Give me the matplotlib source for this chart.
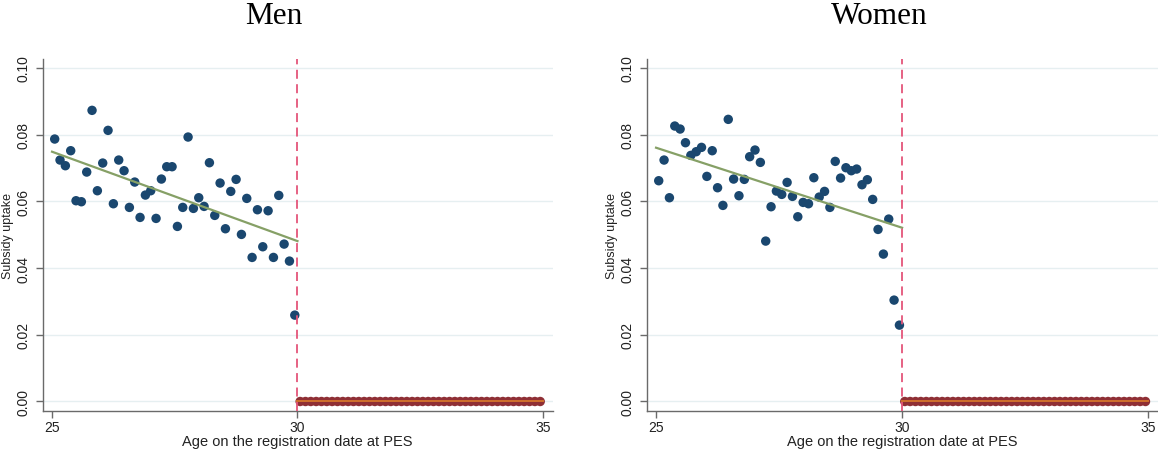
import numpy as np
import matplotlib
matplotlib.use("Agg")
import matplotlib.pyplot as plt

# ---------------- data ----------------
n_bins = 46
age_pre = 25 + (np.arange(n_bins) + 0.5) * 5 / n_bins
age_post = 30 + (np.arange(n_bins) + 0.5) * 5 / n_bins

men_pre = [0.0787, 0.0724, 0.0707, 0.0752, 0.0602, 0.0599, 0.0688, 0.0873,
           0.0632, 0.0715, 0.0813, 0.0593, 0.0724, 0.0692, 0.0582, 0.0658,
           0.0552, 0.0619, 0.0632, 0.0549, 0.0667, 0.0704, 0.0704, 0.0525,
           0.0582, 0.0793, 0.0579, 0.0611, 0.0585, 0.0716, 0.0558, 0.0655,
           0.0518, 0.0630, 0.0666, 0.0501, 0.0609, 0.0432, 0.0575, 0.0464,
           0.0572, 0.0432, 0.0618, 0.0472, 0.0421, 0.0259]
women_pre = [0.0662, 0.0724, 0.0611, 0.0826, 0.0817, 0.0776, 0.0738, 0.0749,
             0.0762, 0.0675, 0.0752, 0.0641, 0.0588, 0.0846, 0.0667, 0.0617,
             0.0666, 0.0734, 0.0754, 0.0717, 0.0481, 0.0584, 0.0631, 0.0621,
             0.0657, 0.0615, 0.0554, 0.0597, 0.0593, 0.0671, 0.0613, 0.0630,
             0.0582, 0.0720, 0.0670, 0.0701, 0.0692, 0.0697, 0.0650, 0.0665,
             0.0606, 0.0516, 0.0442, 0.0547, 0.0304, 0.0229]
men_post = [0.0] * n_bins
women_post = [0.0] * n_bins

fit_ages_pre = [25, 30]
fit_men_pre = [0.0749, 0.0481]
fit_women_pre = [0.0761, 0.0521]
fit_ages_post = [30, 35]
fit_post = [0.0, 0.0]

cutoff = 30
titles = ["Men", "Women"]
xticks = [25, 30, 35]
yticks = [0.00, 0.02, 0.04, 0.06, 0.08, 0.10]

# ---------------- style ----------------
navy = "#1a476f"
maroon = "#8f2f35"
orange = "#d0702c"
green = "#86a066"
pink = "#e4557a"
grid_c = "#e6eff1"
axis_c = "#6a6a6a"

plt.rcParams['font.family'] = ['Liberation Sans', 'DejaVu Sans']

fig = plt.figure(figsize=(11.58, 4.52), dpi=100)
W, H = 1158, 452
panels = [
    dict(left=42.7, right=552.7, pre=men_pre, post=men_post, fit=fit_men_pre, title_x=274),
    dict(left=646.7, right=1158, pre=women_pre, post=women_post, fit=fit_women_pre, title_x=879),
]
top_px, bot_px = 60, 411.7

for p, title in zip(panels, titles):
    ax = fig.add_axes([p['left'] / W, 1 - bot_px / H,
                       (p['right'] - p['left']) / W, (bot_px - top_px) / H])
    ax.set_xlim(24.81, 35.2)
    ax.set_ylim(-0.00276, 0.1027)
    for yv in yticks:
        ax.axhline(yv, color=grid_c, lw=1.0, zorder=0)
    ax.scatter(age_pre, p['pre'], s=46, color=navy, edgecolors='none', zorder=3)
    ax.plot(fit_ages_pre, p['fit'], color=green, lw=1.6, zorder=4)
    ax.scatter(age_post, p['post'], s=46, color=maroon, edgecolors='none', zorder=3)
    ax.plot(fit_ages_post, fit_post, color=orange, lw=1.4, zorder=4)
    ax.axvline(cutoff, color=pink, lw=1.3, linestyle=(0, (5, 3)), zorder=5)

    for s in ['top', 'right']:
        ax.spines[s].set_visible(False)
    for s in ['left', 'bottom']:
        ax.spines[s].set_color(axis_c)
        ax.spines[s].set_linewidth(1.0)
    ax.set_xticks(xticks)
    ax.set_xticklabels([str(t) for t in xticks])
    ax.set_yticks(yticks)
    ax.set_yticklabels([f"{t:.2f}" for t in yticks], rotation=90, va='center')
    ax.tick_params(axis='both', colors=axis_c, length=5, width=1.0,
                   labelcolor='#222222', labelsize=10)
    ax.tick_params(axis='x', pad=1.5)
    ax.tick_params(axis='y', pad=3.5)
    ax.set_xlabel("Age on the registration date at PES", fontsize=10.5, color='#222222', labelpad=0.5)
    ax.set_ylabel("Subsidy uptake", fontsize=9, color='#222222', labelpad=2)
    fig.text(p['title_x'] / W, 1 - 17 / H, title, ha='center', va='center',
             fontsize=22.5, family='Liberation Serif', color='black')

fig.savefig("out.png", dpi=100)
